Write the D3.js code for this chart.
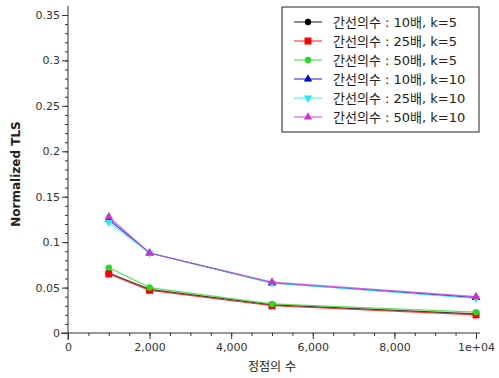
<!DOCTYPE html>
<html>
<head>
<meta charset="utf-8">
<script src="https://cdn.jsdelivr.net/npm/d3@7"></script>
<style>
  body { margin: 0; background: #fff; }
  svg text { font-family: "DejaVu Sans", "Noto Sans CJK KR", sans-serif; }
</style>
</head>
<body>
<div id="chart"></div>
<script>
// x values (number of vertices)
const vertices = [1000, 2000, 5000, 10000];

// series values
const s10k5 = [0.066, 0.048, 0.031, 0.021];
const s25k5 = [0.065, 0.047, 0.030, 0.020];
const s50k5 = [0.072, 0.050, 0.032, 0.023];
const s10k10 = [0.125, 0.088, 0.055, 0.039];
const s25k10 = [0.122, 0.088, 0.055, 0.038];
const s50k10 = [0.128, 0.088, 0.056, 0.040];

const seriesNames = [
  "간선의수 : 10배, k=5",
  "간선의수 : 25배, k=5",
  "간선의수 : 50배, k=5",
  "간선의수 : 10배, k=10",
  "간선의수 : 25배, k=10",
  "간선의수 : 50배, k=10"
];
const seriesColors = ["#000000", "#ff0000", "#22dd22", "#0000cc", "#22eeee", "#cc33cc"];
const seriesMarkers = ["circle", "square", "circle", "triangle", "triangleDown", "triangle"];
const seriesValues = [s10k5, s25k5, s50k5, s10k10, s25k10, s50k10];

const xTicks = [0, 2000, 4000, 6000, 8000, 10000];
const xTickLabels = ["0", "2,000", "4,000", "6,000", "8,000", "1e+04"];
const yTicks = [0, 0.05, 0.1, 0.15, 0.2, 0.25, 0.3, 0.35];
const yTickLabels = ["0", "0.05", "0.1", "0.15", "0.2", "0.25", "0.3", "0.35"];

const W = 499, H = 378;
const m = { left: 68, top: 15, right: 23, bottom: 45 };

const svg = d3.select("#chart").append("svg")
  .attr("width", W).attr("height", H);

const x = d3.scaleLinear().domain([0, 10000]).range([m.left, 476]);
const y = d3.scaleLinear().domain([0, 0.35]).range([333, m.top]);

// y axis
const gy = svg.append("g").attr("transform", `translate(${m.left},0)`);
gy.call(d3.axisLeft(y).tickValues(d3.range(0, 0.351, 0.01)).tickSize(3).tickFormat(""))
gy.call(g => g.select(".domain").remove());
gy.append("g").call(d3.axisLeft(y).tickValues(yTicks).tickSize(6)
    .tickFormat((d, i) => yTickLabels[i]))
  .call(g => g.select(".domain").remove())
  .call(g => g.selectAll("text").attr("font-size", 11).attr("fill", "#333").attr("x", -8));
gy.selectAll("line").attr("stroke", "#333");
svg.append("line").attr("x1", m.left).attr("x2", m.left).attr("y1", 6).attr("y2", 340)
  .attr("stroke", "#333");

// x axis
const gx = svg.append("g").attr("transform", "translate(0,333)");
gx.call(d3.axisBottom(x).tickValues(d3.range(0, 10001, 500)).tickSize(3).tickFormat(""))
  .call(g => g.select(".domain").remove());
gx.append("g").call(d3.axisBottom(x).tickValues(xTicks).tickSize(6)
    .tickFormat((d, i) => xTickLabels[i]))
  .call(g => g.select(".domain").remove())
  .call(g => g.selectAll("text").attr("font-size", 11).attr("fill", "#333").attr("y", 10));
gx.selectAll("line").attr("stroke", "#333");
svg.append("line").attr("x1", 61).attr("x2", 480).attr("y1", 333).attr("y2", 333)
  .attr("stroke", "#333");

// axis labels
svg.append("text")
  .attr("transform", `translate(20,${(333 + m.top) / 2}) rotate(-90)`)
  .attr("text-anchor", "middle").attr("font-size", 12).attr("font-weight", "bold")
  .attr("fill", "#222").text("Normalized TLS");
svg.append("text")
  .attr("x", x(5000)).attr("y", 371).attr("text-anchor", "middle")
  .attr("font-size", 12).attr("fill", "#222").text("정점의 수");

// markers
function drawMarker(g, kind, color, cx, cy) {
  if (kind === "circle") {
    g.append("circle").attr("cx", cx).attr("cy", cy).attr("r", 3.2).attr("fill", color);
  } else if (kind === "square") {
    g.append("rect").attr("x", cx - 3.5).attr("y", cy - 3.5).attr("width", 7).attr("height", 7)
      .attr("fill", color);
  } else {
    const sym = d3.symbol().type(d3.symbolTriangle).size(30);
    g.append("path").attr("d", sym())
      .attr("transform", `translate(${cx},${cy})` + (kind === "triangleDown" ? " rotate(180)" : ""))
      .attr("fill", color);
  }
}

const line = d3.line().x((d, i) => x(vertices[i])).y(d => y(d));
const plot = svg.append("g");
seriesValues.forEach((vals, k) => {
  const g = plot.append("g");
  g.append("path").datum(vals).attr("d", line).attr("fill", "none")
    .attr("stroke", seriesColors[k]).attr("stroke-width", 1.2).attr("opacity", 0.75);
  vals.forEach((v, i) => drawMarker(g, seriesMarkers[k], seriesColors[k], x(vertices[i]), y(v)));
});

// legend
const lg = svg.append("g");
lg.append("rect").attr("x", 282).attr("y", 7).attr("width", 197).attr("height", 125)
  .attr("fill", "#fff").attr("stroke", "#222").attr("stroke-width", 1);
seriesNames.forEach((name, k) => {
  const ry = 22 + k * 19;
  lg.append("line").attr("x1", 294).attr("x2", 322).attr("y1", ry).attr("y2", ry)
    .attr("stroke", seriesColors[k]).attr("stroke-width", 1.2).attr("opacity", 0.75);
  drawMarker(lg, seriesMarkers[k], seriesColors[k], 308, ry);
  lg.append("text").attr("x", 333).attr("y", ry + 5).attr("font-size", 13)
    .attr("fill", "#222").text(name);
});
</script>
</body>
</html>
